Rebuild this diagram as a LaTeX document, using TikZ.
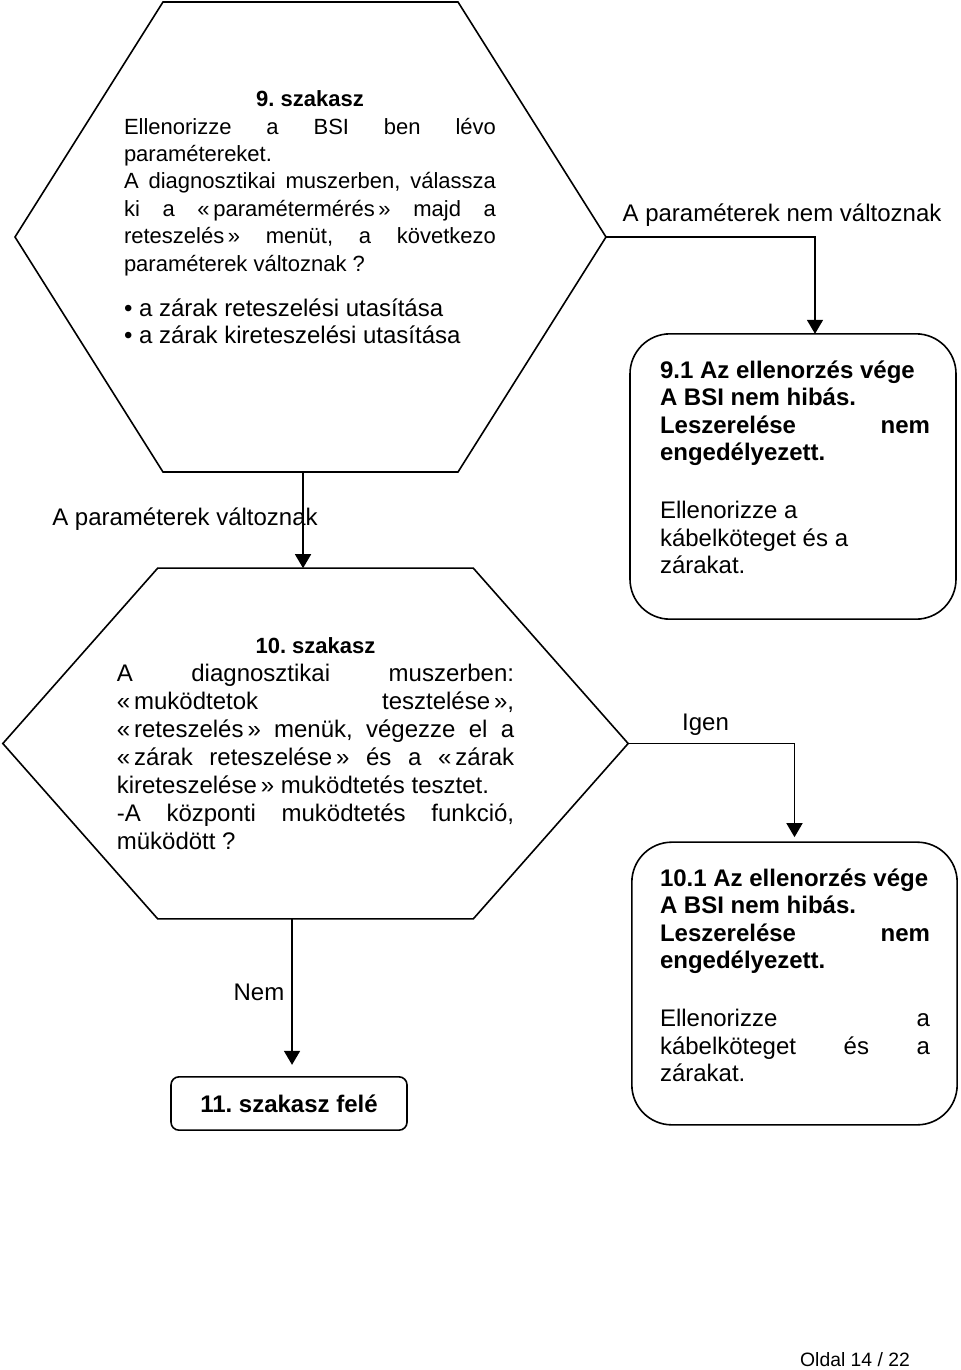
\documentclass[tikz,border=0pt]{standalone}
\usepackage{fontspec}
\setmainfont{Liberation Sans}
\frenchspacing
\usetikzlibrary{shapes.symbols,arrows.meta}
\tikzset{
  hexa/.style={draw, line width=1.2pt, shape=signal, signal to=west and east, inner sep=0pt, outer sep=0pt},
  endbox/.style={draw, line width=1.2pt, rounded corners=30pt, inner sep=0pt, outer sep=0pt},
  flow/.style={line width=1.2pt, -{Triangle[length=10.5pt,width=12pt]}},
  lbl/.style={font=\fontsize{18}{21}\selectfont, inner sep=0pt},
  para/.style={inner sep=0pt, align=justify, execute at begin node={\tolerance=10000\hbadness=10000\parindent=0pt}}
}
\newcommand{\gq}{«\,}
\newcommand{\dq}{\,»}
\begin{document}
\begin{tikzpicture}[x=0.75pt,y=-0.75pt]
\useasboundingbox (0,0) rectangle (960,1370);
% decision shapes
\node[hexa, minimum width=443.25pt, minimum height=352.5pt, signal pointer angle=115.6] (hexA) at (310.5,237) {};
\node[hexa, minimum width=469pt, minimum height=263pt, signal pointer angle=97.1] (hexB) at (315.5,743.5) {};
% end boxes
\node[endbox, minimum width=244.5pt, minimum height=214pt] (box91) at (793,476.5) {};
\node[endbox, minimum width=244pt, minimum height=212pt] (box101) at (794.5,983.5) {};
\node[endbox, rounded corners=6pt, minimum width=177pt, minimum height=40pt, font=\fontsize{18}{21}\selectfont\bfseries] (box11) at (289,1103.5) {11. szakasz felé};
% texts
\node[para, text width=279pt] (hexAtext) at (310,217.5) {\fontsize{16.5}{20.55}\selectfont
{\centering\bfseries 9. szakasz\par}
Ellenorizze a BSI ben lévo\linebreak
paramétereket.\\
A diagnosztikai muszerben, válassza\linebreak
ki a \gq paramétermérés\dq{} majd a\linebreak
reteszelés\dq{} menüt, a következo\linebreak
paraméterek változnak ?\par
\vspace{14pt}
{\fontsize{18}{20.3}\selectfont
• a zárak reteszelési utasítása\\
• a zárak kireteszelési utasítása\par}};
\node[para, text width=298pt] (hexBtext) at (315.5,743.5) {\fontsize{18}{21}\selectfont
{\fontsize{16.5}{21}\selectfont\centering\bfseries 10. szakasz\par}
A diagnosztikai muszerben:\linebreak
\gq muködtetok tesztelése\dq,\linebreak
\gq reteszelés\dq{} menük, végezze el a\linebreak
\gq zárak reteszelése\dq{} és a \gq zárak\linebreak
kireteszelése\dq{} muködtetés tesztet.\\
-A központi muködtetés funkció,\linebreak
müködött ?\par};
\node[para, text width=202.5pt] (box91text) at (795,467.5) {\fontsize{18}{20.6}\selectfont
\textbf{9.1 Az ellenorzés vége}\\
\textbf{A BSI nem hibás.}\\
\textbf{Leszerelése nem}\linebreak
\textbf{engedélyezett.}\\[22.9pt]
Ellenorizze a\\
kábelköteget és a\\
zárakat.\par};
\node[para, text width=202.5pt] (box101text) at (795,975.5) {\fontsize{18}{20.6}\selectfont
\textbf{10.1 Az ellenorzés vége}\\
\textbf{A BSI nem hibás.}\\
\textbf{Leszerelése nem}\linebreak
\textbf{engedélyezett.}\\[22.9pt]
Ellenorizze a\linebreak
kábelköteget és a\linebreak
zárakat.\par};
% connectors
\draw[flow] ([xshift=-5.6pt]hexA.south) -- ([xshift=-5.6pt]hexA.south |- hexB.north);
\draw[flow] (hexA.east) -| ([xshift=16.5pt]box91.north);
\draw[flow] (hexB.east) -| ([yshift=3.75pt]box101.north);
\draw[flow] ([xshift=-17.6pt]hexB.south) -- ([xshift=-17.6pt,yshift=9pt]hexB.south |- box11.north);
% labels
\node[lbl] (lblnem) at (782,215) {A paraméterek nem változnak};
\node[lbl] (lblvalt) at (185,519) {A paraméterek változnak};
\node[lbl] (lbligen) at (705.5,725) {Igen};
\node[lbl] (lblno) at (259,992) {Nem};
\node[inner sep=0pt, font=\fontsize{14.5}{17}\selectfont] (page) at (855,1360) {Oldal 14 / 22};
\end{tikzpicture}
\end{document}
